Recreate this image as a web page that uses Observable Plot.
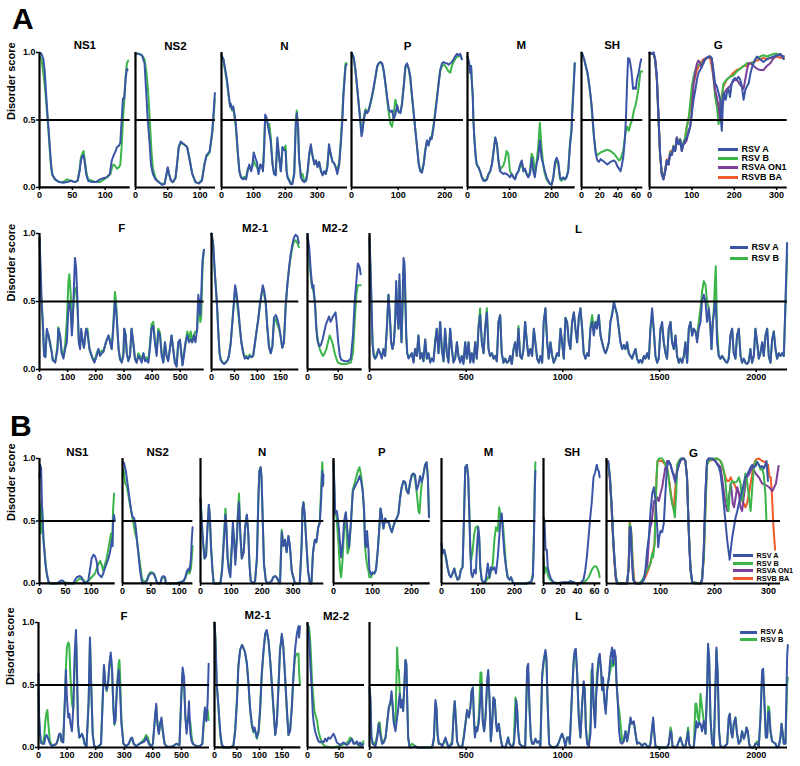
<!DOCTYPE html>
<html><head><meta charset="utf-8">
<script src="https://cdn.jsdelivr.net/npm/d3@7"></script>
<script src="https://cdn.jsdelivr.net/npm/@observablehq/plot@0.6"></script>
<style>
body{margin:0;background:#fff;overflow:hidden;}
#chart{position:relative;width:800px;height:766px;font-family:"Liberation Sans",Arial,Helvetica,sans-serif;color:#000;}
.big{position:absolute;font-weight:bold;font-size:30px;line-height:1;}
.lg{position:absolute;font-weight:bold;white-space:nowrap;line-height:1;}
.lg span.sw{position:absolute;height:3px;}
</style></head><body><div id="chart"></div>
<script>
// ---------- colours / series names ----------
const SERIES = ["RSV A", "RSV B", "RSVA ON1", "RSVB BA"];
const COLORS = {"RSV A": "#3a55a6", "RSV B": "#3bb54a", "RSVA ON1": "#7d3f98", "RSVB BA": "#f15a29"};
const Y_TICKS = [0, 0.5, 1];

// ---------- panel A, row 1 ----------
const A_NS1_A = [[0,1.0],[3,0.99],[6,0.95],[8,0.86],[10,0.7],[12,0.55],[14,0.42],[16,0.28],[18,0.15],[20,0.09],[24,0.06],[30,0.04],[36,0.035],[42,0.04],[48,0.05],[54,0.04],[58,0.05],[61,0.12],[63,0.2],[65,0.23],[67,0.24],[69,0.18],[71,0.1],[74,0.05],[80,0.04],[86,0.04],[92,0.06],[98,0.07],[102,0.075],[107,0.1],[110,0.2],[113,0.24],[116,0.27],[118,0.3],[121,0.31],[123,0.33],[125,0.5],[127,0.66],[129,0.66],[131,0.8],[133,0.88],[134,0.87]];
const A_NS1_B = [[0,0.97],[3,0.95],[5,0.88],[7,0.8],[9,0.7],[11,0.58],[13,0.46],[15,0.32],[17,0.18],[19,0.1],[23,0.06],[30,0.04],[36,0.04],[42,0.06],[48,0.05],[54,0.04],[58,0.05],[61,0.13],[63,0.22],[65,0.25],[67,0.27],[69,0.2],[71,0.12],[74,0.06],[80,0.05],[86,0.04],[92,0.04],[98,0.06],[104,0.08],[108,0.1],[111,0.16],[113,0.17],[115,0.16],[118,0.14],[121,0.15],[123,0.17],[125,0.3],[127,0.5],[129,0.65],[131,0.82],[133,0.92],[135,0.94]];
const A_NS2_A = [[0,0.99],[5,0.99],[10,0.98],[14,0.92],[17,0.67],[19,0.5],[22,0.32],[24,0.17],[27,0.1],[31,0.06],[36,0.04],[41,0.02],[45,0.025],[48,0.1],[50,0.15],[52,0.1],[55,0.05],[58,0.04],[62,0.07],[65,0.2],[67,0.3],[70,0.34],[75,0.32],[80,0.3],[84,0.2],[88,0.1],[93,0.04],[98,0.03],[103,0.05],[107,0.17],[110,0.24],[112,0.25],[115,0.27],[119,0.42],[121,0.55],[123,0.7]];
const A_NS2_B = [[0,0.99],[5,0.99],[10,0.98],[14,0.95],[17,0.85],[19,0.75],[21,0.6],[23,0.42],[25,0.25],[27,0.14],[31,0.07],[36,0.04],[41,0.025],[45,0.03],[48,0.09],[50,0.14],[52,0.1],[55,0.05],[58,0.04],[62,0.07],[65,0.2],[67,0.3],[70,0.33],[75,0.32],[80,0.3],[84,0.21],[88,0.1],[93,0.04],[98,0.03],[103,0.06],[107,0.18],[110,0.23],[112,0.24],[115,0.26],[119,0.4],[121,0.52],[123,0.66]];
const A_N_A = [[0,0.98],[6,0.95],[10,0.9],[17,0.8],[22,0.7],[27,0.6],[29,0.62],[33,0.58],[37,0.6],[40,0.55],[45,0.47],[50,0.3],[56,0.12],[61,0.075],[67,0.06],[72,0.07],[77,0.06],[82,0.12],[87,0.17],[93,0.12],[98,0.19],[101,0.26],[106,0.22],[111,0.19],[116,0.1],[122,0.17],[127,0.16],[130,0.12],[134,0.3],[137,0.54],[141,0.52],[146,0.45],[150,0.4],[154,0.35],[160,0.17],[165,0.1],[170,0.09],[175,0.37],[181,0.22],[186,0.12],[191,0.3],[196,0.28],[201,0.27],[204,0.12],[207,0.075],[212,0.05],[217,0.025],[222,0.025],[228,0.1],[233,0.47],[236,0.55],[240,0.45],[243,0.22],[249,0.075],[254,0.05],[259,0.04],[265,0.05],[270,0.12],[275,0.25],[280,0.32],[285,0.24],[291,0.17],[296,0.2],[301,0.15],[306,0.19],[312,0.12],[317,0.09],[322,0.12],[327,0.1],[332,0.15],[337,0.32],[343,0.24],[348,0.19],[353,0.18],[358,0.15],[363,0.1],[369,0.17],[374,0.32],[379,0.5],[382,0.67],[385,0.77],[389,0.9],[392,0.91]];
const A_N_B = [[0,0.97],[6,0.95],[10,0.88],[17,0.78],[22,0.68],[27,0.6],[29,0.6],[33,0.57],[37,0.58],[40,0.54],[45,0.45],[50,0.28],[56,0.12],[61,0.08],[67,0.07],[72,0.08],[77,0.07],[82,0.14],[87,0.15],[93,0.13],[98,0.16],[101,0.2],[106,0.17],[111,0.15],[116,0.12],[122,0.17],[127,0.15],[130,0.13],[134,0.35],[137,0.52],[141,0.5],[146,0.47],[150,0.47],[154,0.38],[160,0.18],[165,0.1],[170,0.1],[175,0.33],[181,0.22],[186,0.12],[191,0.29],[196,0.28],[201,0.31],[204,0.13],[207,0.08],[212,0.06],[217,0.03],[222,0.03],[228,0.11],[233,0.5],[236,0.57],[240,0.45],[243,0.22],[249,0.08],[254,0.1],[259,0.05],[265,0.05],[270,0.12],[275,0.24],[280,0.3],[285,0.24],[291,0.18],[296,0.2],[301,0.16],[306,0.19],[312,0.12],[317,0.1],[322,0.12],[327,0.1],[332,0.17],[337,0.3],[343,0.24],[348,0.19],[353,0.18],[358,0.15],[363,0.14],[369,0.18],[374,0.35],[379,0.55],[382,0.7],[385,0.8],[389,0.92],[392,0.92]];
const A_P_A = [[0,1.0],[3,0.98],[5,0.96],[8.6,0.87],[12,0.75],[16,0.6],[19,0.48],[21.4,0.38],[22.8,0.4],[26.4,0.5],[30,0.57],[33.6,0.55],[37,0.57],[40.7,0.63],[44,0.68],[47.8,0.75],[51.4,0.82],[55,0.9],[58.5,0.92],[62,0.93],[65.7,0.92],[69,0.87],[72.8,0.77],[76.4,0.67],[80,0.58],[83.5,0.56],[87,0.57],[90.6,0.51],[94,0.54],[97.7,0.61],[101,0.56],[104.8,0.55],[108,0.61],[112,0.75],[115.6,0.9],[119,0.92],[122.7,0.88],[126,0.82],[130,0.67],[133.4,0.55],[137,0.42],[140.5,0.3],[144,0.17],[147.6,0.12],[151,0.11],[154.7,0.17],[158,0.27],[161.8,0.35],[165,0.31],[168.9,0.37],[172,0.36],[176,0.45],[179.6,0.55],[183,0.65],[186.8,0.77],[190,0.87],[194,0.92],[197.5,0.93],[201,0.92],[204.6,0.92],[208,0.91],[211.7,0.92],[215,0.93],[218.8,0.95],[222,0.97],[225.9,0.99],[229,0.98],[233,0.99],[236.5,0.95]];
const A_P_B = [[0,1.0],[3,0.97],[5,0.95],[8.6,0.86],[12,0.74],[16,0.6],[19,0.5],[21.4,0.42],[22.8,0.4],[26.4,0.52],[30,0.58],[33.6,0.56],[37,0.58],[40.7,0.62],[44,0.67],[47.8,0.74],[51.4,0.82],[55,0.89],[58.5,0.92],[62,0.93],[65.7,0.91],[69,0.86],[72.8,0.76],[76.4,0.65],[80,0.55],[83.5,0.47],[87,0.45],[90.6,0.55],[94,0.65],[97.7,0.6],[101,0.56],[104.8,0.56],[108,0.62],[112,0.76],[115.6,0.89],[119,0.91],[122.7,0.88],[126,0.8],[130,0.66],[133.4,0.54],[137,0.42],[140.5,0.3],[144,0.18],[147.6,0.12],[151,0.12],[154.7,0.18],[158,0.28],[161.8,0.34],[165,0.32],[168.9,0.36],[172,0.38],[176,0.47],[179.6,0.57],[183,0.67],[186.8,0.78],[190,0.86],[194,0.9],[197.5,0.91],[201,0.9],[204.6,0.88],[208,0.86],[211.7,0.85],[215,0.9],[218.8,0.93],[222,0.95],[225.9,0.97],[229,0.97],[233,0.98],[236.5,0.95]];
const A_M_A = [[0,0.97],[4,0.92],[6.3,0.85],[8.7,0.9],[10,0.8],[12.6,0.67],[14,0.5],[16.6,0.35],[19.7,0.22],[22,0.17],[26,0.15],[30,0.12],[34,0.075],[38,0.05],[42,0.05],[46,0.06],[50,0.1],[54,0.12],[58,0.17],[62,0.27],[66,0.37],[70,0.32],[73.5,0.2],[77.4,0.12],[81.4,0.11],[85,0.1],[89,0.105],[93,0.1],[97,0.09],[101,0.075],[105,0.1],[109,0.075],[113,0.06],[117,0.1],[121,0.12],[125,0.17],[129,0.2],[133,0.12],[136.6,0.14],[140.6,0.1],[144.5,0.075],[148.6,0.1],[152.5,0.22],[156.5,0.12],[160,0.075],[164,0.17],[168,0.22],[172,0.35],[176,0.22],[180,0.17],[184,0.12],[188,0.075],[192,0.05],[196,0.025],[200,0.02],[204,0.075],[208,0.19],[212,0.22],[215.8,0.19],[220,0.075],[223.6,0.06],[227.6,0.075],[231.5,0.06],[235.5,0.075],[239.5,0.12],[243.4,0.3],[247.4,0.42],[249,0.55],[252,0.72],[255,0.92]];
const A_M_B = [[0,0.97],[4,0.92],[6.3,0.85],[8.7,0.88],[10,0.8],[12.6,0.67],[14,0.5],[16.6,0.35],[19.7,0.22],[22,0.17],[26,0.15],[30,0.12],[34,0.08],[38,0.06],[42,0.05],[46,0.06],[50,0.1],[54,0.12],[58,0.17],[62,0.27],[66,0.37],[70,0.32],[73.5,0.2],[77.4,0.13],[81.4,0.15],[85,0.16],[89,0.2],[93,0.27],[97,0.25],[101,0.12],[105,0.1],[109,0.08],[113,0.07],[117,0.1],[121,0.12],[125,0.15],[129,0.18],[133,0.12],[136.6,0.13],[140.6,0.1],[144.5,0.08],[148.6,0.12],[152.5,0.25],[156.5,0.22],[160,0.1],[164,0.18],[168,0.3],[172,0.48],[176,0.3],[180,0.17],[184,0.1],[188,0.06],[192,0.04],[196,0.03],[200,0.02],[204,0.07],[208,0.17],[212,0.2],[215.8,0.17],[220,0.06],[223.6,0.05],[227.6,0.07],[231.5,0.06],[235.5,0.08],[239.5,0.13],[243.4,0.32],[247.4,0.45],[249,0.58],[252,0.75],[255,0.92]];
const A_SH_A = [[0,1.0],[1,0.99],[2.9,0.95],[4.7,0.9],[6.6,0.85],[8.4,0.77],[10.2,0.67],[11.3,0.6],[12.4,0.5],[13.8,0.37],[15.7,0.25],[17.5,0.2],[19.3,0.19],[21,0.21],[23,0.2],[24.8,0.19],[28.4,0.17],[32,0.19],[35.7,0.2],[37.5,0.19],[39.3,0.16],[41.2,0.14],[43,0.12],[44,0.15],[45.9,0.22],[47.7,0.35],[49,0.52],[50.3,0.8],[51.4,0.96],[53,0.95],[54.9,0.87],[56.8,0.73],[58.3,0.74],[59.8,0.73],[61,0.8],[62.9,0.85],[64.7,0.92],[65.8,0.95]];
const A_SH_B = [[0,1.0],[2.9,0.95],[4.7,0.9],[6.6,0.84],[8.4,0.76],[10.2,0.66],[12.1,0.5],[13.8,0.37],[15.7,0.26],[17.5,0.24],[21,0.26],[24.8,0.27],[28.4,0.28],[32,0.27],[35.7,0.25],[39.3,0.22],[41.2,0.2],[43,0.21],[45.9,0.27],[48.3,0.4],[50.3,0.45],[52.2,0.42],[54,0.47],[55.8,0.5],[57.7,0.57],[59.5,0.61],[61.3,0.67],[63.1,0.75],[64.9,0.86],[67,0.86]];
const A_G_A = [[0,1.0],[5.5,0.99],[9.4,1.0],[13.4,0.95],[17.3,0.82],[21,0.55],[25,0.25],[29,0.1],[33,0.06],[37,0.12],[40.9,0.2],[44.8,0.17],[48.8,0.25],[52.7,0.24],[56.6,0.3],[60.6,0.27],[64.5,0.37],[68.4,0.32],[72.4,0.35],[76.3,0.27],[80,0.32],[84,0.35],[88,0.37],[92,0.4],[96,0.45],[100,0.55],[104,0.65],[108,0.72],[112,0.8],[115.7,0.85],[119.6,0.87],[123.5,0.9],[127.5,0.92],[131.4,0.95],[135,0.96],[139,0.97],[143,0.97],[147,0.96],[151,0.87],[155,0.77],[159,0.75],[163,0.7],[166.9,0.65],[168.5,0.5],[170.8,0.42],[173,0.6],[176,0.7],[180,0.65],[182.5,0.7],[186.5,0.73],[190,0.67],[194,0.77],[198,0.8],[202,0.81],[206,0.8],[210,0.82],[214,0.8],[218,0.75],[222,0.65],[226,0.72],[230,0.75],[234,0.77],[238,0.84],[242,0.89],[245.7,0.92],[249.6,0.95],[253.5,0.97],[261,0.95],[269,0.93],[277,0.95],[285,0.96],[293,0.97],[301,0.98],[309,0.99],[317,0.95]];
const A_G_B = [[0,1.0],[5.5,0.99],[9.4,0.99],[13.4,0.94],[17.3,0.8],[21,0.52],[25,0.24],[29,0.1],[33,0.07],[37,0.13],[40.9,0.2],[44.8,0.18],[48.8,0.26],[52.7,0.25],[56.6,0.31],[60.6,0.28],[64.5,0.36],[68.4,0.33],[72.4,0.36],[76.3,0.29],[80,0.33],[84,0.37],[88,0.45],[92,0.5],[96,0.62],[100,0.75],[104,0.82],[108,0.87],[112,0.9],[119.6,0.92],[127.5,0.93],[135,0.96],[143,0.97],[147,0.95],[151,0.82],[155,0.67],[159,0.6],[163,0.47],[166.9,0.55],[170.8,0.67],[174.6,0.77],[182.5,0.8],[190,0.82],[198,0.83],[206,0.86],[214,0.88],[222,0.9],[230,0.92],[238,0.92],[245.7,0.93],[253.5,0.96],[261,0.97],[269,0.98],[277,0.97],[285,0.98],[293,0.99],[301,0.99],[309,0.98],[317,0.97]];
const A_G_ON1 = [[0,1.0],[5.5,0.99],[9.4,1.0],[13.4,0.95],[17.3,0.82],[21,0.55],[25,0.25],[29,0.1],[33,0.06],[37,0.12],[40.9,0.2],[44.8,0.17],[48.8,0.25],[52.7,0.24],[56.6,0.3],[60.6,0.27],[64.5,0.37],[68.4,0.32],[72.4,0.35],[76.3,0.27],[80,0.32],[84,0.33],[88,0.35],[92,0.42],[96,0.45],[100,0.55],[104,0.77],[108,0.85],[112,0.92],[115.7,0.94],[119.6,0.92],[123.5,0.89],[127.5,0.94],[135,0.96],[143,0.97],[147,0.95],[151,0.82],[155,0.72],[159,0.67],[163,0.6],[166.9,0.5],[170.8,0.6],[174.6,0.69],[182.5,0.73],[190,0.75],[198,0.79],[206,0.8],[214,0.76],[222,0.73],[226,0.8],[230,0.87],[234,0.92],[238,0.92],[245.7,0.9],[253.5,0.88],[261,0.87],[269,0.87],[277,0.9],[285,0.92],[293,0.96],[301,0.98],[309,0.98],[317,0.97]];
const A_G_BA = [[0,1.0],[5.5,0.99],[9.4,0.99],[13.4,0.94],[17.3,0.8],[21,0.52],[25,0.24],[29,0.1],[33,0.07],[37,0.13],[40.9,0.21],[44.8,0.18],[48.8,0.27],[52.7,0.25],[56.6,0.31],[60.6,0.28],[64.5,0.37],[68.4,0.33],[72.4,0.36],[76.3,0.3],[80,0.33],[84,0.36],[88,0.45],[96,0.57],[104,0.77],[112,0.87],[119.6,0.92],[127.5,0.95],[135,0.96],[143,0.96],[151,0.82],[159,0.62],[163,0.55],[166.9,0.62],[174.6,0.75],[182.5,0.8],[190,0.82],[198,0.85],[206,0.87],[214,0.88],[222,0.9],[230,0.9],[238,0.92],[245.7,0.93],[253.5,0.94],[261,0.95],[269,0.96],[277,0.95],[285,0.96],[293,0.96],[301,0.97],[309,0.96],[317,0.96]];

// ---------- panel A, row 2 ----------
const A_F_A = [[0,0.97],[4.7,0.7],[8.3,0.45],[11.8,0.35],[16.5,0.1],[21,0.09],[26,0.3],[32,0.25],[38,0.18],[44,0.12],[47,0.07],[56,0.05],[64,0.15],[67,0.3],[73,0.25],[79,0.12],[85,0.08],[91,0.15],[97,0.2],[103,0.47],[106,0.5],[111,0.42],[115,0.25],[118,0.35],[123,0.65],[126,0.82],[130,0.75],[135,0.5],[139.5,0.2],[144,0.15],[148,0.3],[154,0.2],[158,0.16],[165.5,0.3],[170,0.28],[177,0.15],[182,0.12],[189,0.08],[195,0.05],[203,0.1],[209,0.15],[215,0.1],[221,0.12],[227,0.13],[236,0.2],[245,0.25],[250.6,0.2],[256.5,0.15],[262,0.3],[268,0.5],[272,0.45],[276.6,0.3],[281,0.15],[286,0.08],[292,0.05],[298,0.1],[301,0.3],[306,0.25],[310,0.12],[315.6,0.06],[321.5,0.1],[327,0.3],[333,0.2],[339,0.08],[345,0.05],[351,0.1],[357,0.08],[363,0.05],[369,0.12],[375,0.06],[380.6,0.07],[386.5,0.05],[392,0.15],[398,0.3],[404,0.32],[410,0.2],[416,0.1],[422,0.28],[428,0.25],[434,0.1],[440,0.05],[445.6,0.2],[451.5,0.1],[457,0.06],[463,0.15],[469,0.25],[475,0.15],[481,0.05],[487,0.02],[493,0.2],[499,0.22],[504.7,0.1],[508,0.03],[513,0.1],[519,0.2],[525,0.25],[531,0.2],[537,0.22],[542.6,0.2],[548.5,0.25],[554,0.2],[560,0.3],[564,0.55],[567,0.5],[571,0.4],[574.5,0.55],[579,0.8],[584,0.88]];
const A_F_B = [[0,0.97],[4.7,0.55],[8.3,0.5],[11.8,0.3],[16.5,0.1],[21,0.1],[26,0.28],[32,0.25],[38,0.2],[44,0.12],[47,0.07],[56,0.06],[64,0.18],[67,0.31],[73,0.25],[79,0.12],[85,0.1],[91,0.18],[97,0.35],[103,0.65],[106,0.7],[111,0.55],[115,0.3],[118,0.4],[123,0.55],[126,0.6],[130,0.6],[135,0.45],[139.5,0.22],[144,0.17],[148,0.28],[154,0.2],[158,0.16],[165.5,0.3],[170,0.3],[177,0.17],[182,0.12],[189,0.08],[195,0.06],[203,0.12],[209,0.15],[215,0.12],[221,0.14],[227,0.13],[236,0.2],[245,0.25],[250.6,0.22],[256.5,0.15],[262,0.33],[268,0.57],[272,0.5],[276.6,0.3],[281,0.15],[286,0.07],[292,0.06],[298,0.12],[301,0.3],[306,0.26],[310,0.12],[315.6,0.07],[321.5,0.1],[327,0.3],[333,0.2],[339,0.08],[345,0.05],[351,0.12],[357,0.1],[363,0.07],[369,0.12],[375,0.07],[380.6,0.09],[386.5,0.06],[392,0.18],[398,0.33],[404,0.35],[410,0.22],[416,0.12],[422,0.3],[428,0.27],[434,0.12],[440,0.06],[445.6,0.2],[451.5,0.1],[457,0.07],[463,0.15],[469,0.25],[475,0.15],[481,0.05],[487,0.03],[493,0.2],[499,0.2],[504.7,0.1],[508,0.04],[513,0.12],[519,0.2],[525,0.28],[531,0.22],[537,0.28],[542.6,0.2],[548.5,0.26],[554,0.28],[560,0.28],[564,0.5],[567,0.45],[571,0.35],[574.5,0.38],[579,0.75],[584,0.88]];
const A_M21_A = [[0,1.0],[3.6,0.93],[7.2,0.72],[9.4,0.6],[11.6,0.5],[14.5,0.3],[17.4,0.12],[20,0.07],[24,0.05],[27.5,0.04],[31,0.05],[35,0.07],[38,0.1],[42,0.2],[45.7,0.36],[49,0.5],[51.4,0.62],[53.6,0.58],[56.5,0.5],[58.7,0.44],[61.6,0.32],[65,0.2],[69,0.12],[72.5,0.08],[76,0.09],[79.7,0.08],[83,0.1],[87,0.09],[90.6,0.1],[94,0.18],[98,0.28],[101.4,0.36],[105,0.47],[108.7,0.55],[111.6,0.62],[114.5,0.58],[118,0.5],[121.7,0.3],[125,0.17],[129,0.12],[132.5,0.17],[136,0.38],[140,0.4],[143.4,0.37],[147,0.32],[150.6,0.24],[154,0.16],[157.7,0.2],[161.5,0.47],[165,0.62],[168.8,0.75],[172,0.84],[176,0.92],[179.6,0.97],[183,0.99],[186.9,0.98],[190,0.93]];
const A_M21_B = [[0,1.0],[3.6,0.92],[7.2,0.7],[8.5,0.65],[9.4,0.62],[11.6,0.5],[14.5,0.3],[17.4,0.13],[20,0.08],[24,0.05],[27.5,0.05],[31,0.05],[35,0.07],[38,0.1],[42,0.2],[45.7,0.36],[49,0.5],[51.4,0.6],[53.6,0.56],[56.5,0.46],[58.7,0.4],[61.6,0.3],[65,0.2],[69,0.13],[72.5,0.09],[76,0.1],[79.7,0.08],[83,0.11],[87,0.09],[90.6,0.1],[94,0.18],[98,0.28],[101.4,0.36],[105,0.46],[108.7,0.55],[111.6,0.6],[114.5,0.56],[118,0.48],[121.7,0.3],[125,0.17],[129,0.12],[132.5,0.17],[136,0.35],[140,0.37],[143.4,0.33],[147,0.3],[150.6,0.24],[154,0.16],[157.7,0.2],[161.5,0.47],[165,0.62],[168.8,0.74],[172,0.82],[176,0.9],[179.6,0.94],[183,0.95],[186.9,0.93],[190,0.9]];
const A_M22_A = [[0,0.99],[2.7,0.9],[5.4,0.72],[8,0.6],[9.7,0.62],[10.8,0.55],[12.4,0.47],[14,0.32],[16,0.22],[19,0.17],[21.8,0.18],[24.5,0.22],[27,0.27],[29.9,0.33],[32.5,0.36],[35,0.39],[37.6,0.35],[40.3,0.38],[43,0.4],[45.7,0.42],[47.3,0.35],[50,0.2],[52.7,0.1],[55,0.07],[60.7,0.06],[66,0.06],[70.4,0.08],[74,0.25],[76.8,0.5],[79.5,0.65],[82,0.78],[85,0.75],[86.5,0.7]];
const A_M22_B = [[0,0.97],[4,0.75],[6.7,0.62],[9.4,0.58],[12,0.5],[14.6,0.3],[17.3,0.2],[20,0.15],[22.7,0.12],[25.4,0.1],[28,0.12],[30.7,0.15],[33.4,0.2],[36,0.25],[38.8,0.22],[41.5,0.18],[44.2,0.12],[46.9,0.08],[49.6,0.05],[55,0.04],[63,0.04],[70.4,0.05],[74,0.12],[76.8,0.35],[79.5,0.55],[82,0.62],[86.5,0.62]];
const A_L_A = [[0,0.98],[8.6,0.6],[15.5,0.2],[22,0.1],[29,0.08],[38,0.1],[46.5,0.15],[55,0.12],[64,0.08],[72,0.15],[81,0.1],[90,0.3],[98,0.55],[105,0.4],[112,0.2],[119,0.15],[126,0.2],[133,0.35],[138,0.65],[143,0.45],[150,0.3],[155,0.7],[160,0.4],[165.5,0.2],[171,0.5],[176,0.82],[181,0.78],[184.5,0.6],[190,0.25],[195,0.12],[202,0.08],[210,0.1],[219,0.12],[227.6,0.05],[236,0.15],[245,0.1],[253,0.25],[262,0.08],[271,0.12],[279,0.06],[288,0.22],[296.5,0.08],[305,0.12],[314,0.05],[322,0.08],[331,0.06],[340,0.2],[348,0.3],[357,0.12],[365.5,0.35],[374,0.15],[383,0.06],[391,0.3],[400,0.12],[408.6,0.05],[417,0.3],[426,0.15],[434,0.05],[443,0.08],[452,0.2],[460,0.1],[469,0.05],[477.5,0.1],[486,0.04],[495,0.2],[503,0.08],[512,0.2],[521,0.05],[529,0.12],[538,0.05],[546.5,0.2],[555,0.08],[564,0.3],[572,0.4],[581,0.2],[590,0.12],[598,0.3],[607,0.42],[615.6,0.15],[624,0.1],[633,0.12],[641.6,0.08],[650,0.1],[658.6,0.06],[667,0.35],[676,0.4],[684,0.12],[693,0.05],[702,0.08],[710,0.05],[719,0.06],[727.6,0.1],[736,0.04],[745,0.15],[753,0.2],[762,0.1],[770.6,0.3],[779,0.1],[788,0.08],[796.5,0.15],[805,0.35],[814,0.2],[822,0.1],[832,0.15],[841,0.1],[850,0.3],[858,0.2],[867,0.08],[876,0.05],[884,0.1],[893,0.05],[901,0.35],[910,0.45],[919,0.2],[927,0.08],[936,0.2],[945,0.1],[953,0.05],[962,0.08],[970,0.12],[979,0.1],[988,0.3],[996,0.2],[1005,0.08],[1013.5,0.38],[1022,0.35],[1031,0.2],[1039,0.15],[1048,0.35],[1057,0.42],[1065,0.3],[1074,0.2],[1082.5,0.38],[1091,0.45],[1100,0.3],[1108,0.12],[1117,0.08],[1126,0.12],[1134,0.1],[1143,0.3],[1151.5,0.35],[1160,0.25],[1169,0.35],[1177,0.3],[1186,0.4],[1195,0.25],[1203,0.2],[1212,0.15],[1220.5,0.12],[1229,0.15],[1238,0.2],[1246,0.35],[1255,0.4],[1264,0.5],[1272,0.45],[1281,0.4],[1289.5,0.3],[1298,0.2],[1307,0.15],[1315,0.18],[1324,0.15],[1332.5,0.2],[1341,0.12],[1350,0.1],[1358,0.08],[1367,0.12],[1376,0.15],[1384,0.08],[1393,0.05],[1401,0.07],[1410,0.05],[1419,0.1],[1427,0.08],[1436,0.12],[1445,0.08],[1453,0.3],[1462,0.45],[1470,0.3],[1479,0.1],[1488,0.05],[1496,0.08],[1505,0.3],[1513.5,0.35],[1522,0.2],[1531,0.12],[1539,0.08],[1548,0.3],[1557,0.35],[1565,0.2],[1574,0.15],[1582.5,0.25],[1591,0.1],[1600,0.05],[1608,0.08],[1617,0.05],[1626,0.1],[1634,0.2],[1643,0.05],[1651.5,0.3],[1660,0.35],[1669,0.25],[1677,0.3],[1686,0.28],[1694.5,0.2],[1703,0.3],[1712,0.35],[1720,0.5],[1729,0.55],[1738,0.5],[1746,0.35],[1755,0.45],[1763.5,0.3],[1769,0.15],[1775.5,0.35],[1781,0.4],[1786,0.5],[1791,0.5],[1798,0.2],[1806.5,0.1],[1815,0.08],[1824,0.1],[1832.5,0.08],[1841,0.06],[1850,0.05],[1858,0.08],[1867,0.25],[1875.5,0.3],[1884,0.12],[1893,0.08],[1901,0.25],[1910,0.3],[1919,0.1],[1927,0.05],[1936,0.08],[1944.5,0.05],[1953,0.04],[1962,0.06],[1970,0.15],[1979,0.05],[1988,0.1],[1996,0.3],[2005,0.2],[2013.5,0.08],[2022,0.12],[2031,0.2],[2039,0.1],[2048,0.25],[2057,0.3],[2065,0.1],[2074,0.05],[2082.5,0.22],[2091,0.28],[2100,0.15],[2108,0.08],[2117,0.12],[2125.5,0.1],[2134,0.12],[2143,0.1],[2151.5,0.5],[2160,0.93]];
const A_L_B = [[0,0.96],[8.6,0.55],[15.5,0.2],[22,0.1],[29,0.08],[38,0.12],[46.5,0.15],[55,0.12],[64,0.09],[72,0.15],[81,0.1],[90,0.32],[98,0.55],[105,0.4],[112,0.2],[119,0.15],[126,0.2],[133,0.38],[138,0.6],[143,0.45],[150,0.3],[155,0.65],[160,0.4],[165.5,0.2],[171,0.45],[176,0.75],[181,0.72],[184.5,0.55],[190,0.25],[195,0.12],[202,0.09],[210,0.1],[219,0.12],[227.6,0.06],[236,0.15],[245,0.1],[253,0.25],[262,0.08],[271,0.12],[279,0.06],[288,0.22],[296.5,0.08],[305,0.12],[314,0.06],[322,0.08],[331,0.07],[340,0.22],[348,0.3],[357,0.12],[365.5,0.35],[374,0.15],[383,0.06],[391,0.3],[400,0.12],[408.6,0.06],[417,0.3],[426,0.15],[434,0.06],[443,0.08],[452,0.2],[460,0.1],[469,0.06],[477.5,0.1],[486,0.05],[495,0.2],[503,0.08],[512,0.2],[521,0.06],[529,0.12],[538,0.06],[546.5,0.2],[555,0.08],[564,0.32],[572,0.45],[581,0.2],[590,0.12],[598,0.3],[607,0.45],[615.6,0.15],[624,0.1],[633,0.12],[641.6,0.08],[650,0.1],[658.6,0.06],[667,0.35],[676,0.4],[684,0.12],[693,0.05],[702,0.08],[710,0.05],[719,0.06],[727.6,0.1],[736,0.04],[745,0.15],[753,0.2],[762,0.1],[770.6,0.32],[779,0.1],[788,0.08],[796.5,0.15],[805,0.35],[814,0.2],[822,0.1],[832,0.15],[841,0.1],[850,0.3],[858,0.2],[867,0.08],[876,0.05],[884,0.1],[893,0.05],[901,0.35],[910,0.45],[919,0.2],[927,0.08],[936,0.2],[945,0.1],[953,0.05],[962,0.08],[970,0.12],[979,0.1],[988,0.3],[996,0.2],[1005,0.08],[1013.5,0.38],[1022,0.35],[1031,0.2],[1039,0.15],[1048,0.35],[1057,0.42],[1065,0.3],[1074,0.2],[1082.5,0.38],[1091,0.45],[1100,0.3],[1108,0.12],[1117,0.08],[1126,0.12],[1134,0.1],[1143,0.32],[1151.5,0.4],[1160,0.3],[1169,0.35],[1177,0.35],[1186,0.4],[1195,0.25],[1203,0.2],[1212,0.15],[1220.5,0.12],[1229,0.15],[1238,0.2],[1246,0.35],[1255,0.42],[1264,0.48],[1272,0.45],[1281,0.4],[1289.5,0.3],[1298,0.2],[1307,0.15],[1315,0.18],[1324,0.15],[1332.5,0.2],[1341,0.12],[1350,0.1],[1358,0.08],[1367,0.12],[1376,0.15],[1384,0.08],[1393,0.05],[1401,0.07],[1410,0.05],[1419,0.1],[1427,0.08],[1436,0.12],[1445,0.08],[1453,0.3],[1462,0.4],[1470,0.3],[1479,0.1],[1488,0.05],[1496,0.08],[1505,0.3],[1513.5,0.32],[1522,0.2],[1531,0.12],[1539,0.08],[1548,0.3],[1557,0.35],[1565,0.2],[1574,0.15],[1582.5,0.25],[1591,0.1],[1600,0.05],[1608,0.08],[1617,0.05],[1626,0.1],[1634,0.2],[1643,0.05],[1651.5,0.3],[1660,0.35],[1669,0.25],[1677,0.3],[1686,0.28],[1694.5,0.25],[1703,0.35],[1712,0.45],[1720,0.57],[1729,0.65],[1738,0.62],[1746,0.5],[1755,0.45],[1763.5,0.3],[1769,0.15],[1775.5,0.35],[1781,0.45],[1786,0.62],[1791,0.76],[1798,0.3],[1806.5,0.1],[1815,0.08],[1824,0.1],[1832.5,0.08],[1841,0.06],[1850,0.05],[1858,0.08],[1867,0.25],[1875.5,0.3],[1884,0.12],[1893,0.08],[1901,0.25],[1910,0.3],[1919,0.1],[1927,0.05],[1936,0.08],[1944.5,0.05],[1953,0.04],[1962,0.06],[1970,0.15],[1979,0.05],[1988,0.1],[1996,0.3],[2005,0.2],[2013.5,0.08],[2022,0.12],[2031,0.2],[2039,0.1],[2048,0.25],[2057,0.3],[2065,0.1],[2074,0.05],[2082.5,0.22],[2091,0.28],[2100,0.15],[2108,0.08],[2117,0.12],[2125.5,0.1],[2134,0.12],[2143,0.1],[2151.5,0.45],[2160,0.85]];

// ---------- panel B, row 1 ----------
const B_NS1_A = [[0,0.85],[1.3,0.95],[3.2,0.92],[5,0.6],[6.4,0.5],[7.7,0.35],[9.6,0.25],[11.5,0.15],[14,0.08],[17,0.02],[20.5,0],[33,0],[40,0.02],[43,0.025],[46,0.02],[49,0],[65,0],[68.6,0.03],[72,0.05],[78,0.06],[81,0.05],[84.6,0.02],[88,0],[94,0.02],[97,0.1],[100.6,0.2],[104,0.23],[107,0.22],[110,0.18],[113,0.08],[117,0.06],[120,0.05],[123,0.08],[126,0.12],[129.5,0.16],[133,0.2],[136,0.25],[138,0.3],[140,0.35],[141,0.3],[142,0.5],[143.6,0.55],[145.5,0.5]];
const B_NS1_B = [[0,0.5],[1.3,0.62],[2.6,0.4],[3.8,0.66],[5,0.62],[6.4,0.45],[7.7,0.35],[11,0.2],[14,0.08],[17,0.02],[20.5,0],[40,0],[46,0.01],[65,0],[72,0.02],[78,0.04],[84.6,0.03],[88,0.01],[94,0.02],[100.6,0.05],[107,0.08],[113,0.15],[117,0.18],[120,0.15],[123,0.1],[126,0.15],[129.5,0.2],[133,0.28],[136,0.35],[138,0.4],[140,0.3],[142,0.6],[144,0.72]];
const B_NS2_A = [[0,0.97],[1.8,0.97],[2.9,0.96],[5.9,0.9],[8.8,0.8],[11.8,0.7],[14.7,0.6],[17.6,0.53],[19.4,0.53],[20.6,0.52],[22.4,0.48],[24,0.42],[26.5,0.3],[28.8,0.2],[31,0.1],[34,0.02],[37,0],[43,0.02],[46,0.06],[49,0.08],[52,0.08],[55,0.08],[57.6,0.05],[60.6,0.01],[63.5,0],[66.5,0],[69.4,0.05],[72,0.06],[75,0.05],[76.5,0],[81,0],[90,0],[96,0],[102,0.01],[107.6,0.02],[110.6,0.05],[113.5,0.1],[116.5,0.12],[118,0.1],[120.6,0.2],[122,0.35],[123.5,0.45]];
const B_NS2_B = [[0,0.85],[1.8,0.92],[4.7,0.8],[7.6,0.78],[10.6,0.7],[13.5,0.62],[16.5,0.55],[19.4,0.48],[22.4,0.4],[25.3,0.35],[28,0.25],[31,0.15],[34,0.05],[37,0.01],[43,0.03],[46,0.07],[49,0.09],[52,0.09],[55,0.08],[57.6,0.05],[60.6,0.01],[63.5,0],[66.5,0],[69.4,0.04],[72,0.05],[75,0.04],[76.5,0],[90,0],[102,0.01],[107.6,0.02],[110.6,0.04],[113.5,0.08],[116.5,0.1],[118,0.08],[120.6,0.12],[122,0.2],[123.5,0.3]];
const B_N_A = [[0,0.68],[3,0.55],[7.5,0.35],[13,0.2],[18,0.22],[21.5,0.4],[27,0.63],[30,0.55],[34,0.3],[39,0.1],[43,0],[54,0],[64.5,0],[70,0.1],[75,0.3],[81,0.55],[84,0.45],[88,0.2],[92.5,0.1],[97,0.05],[102,0.3],[105,0.5],[110,0.3],[113,0.15],[118,0.35],[121.5,0.55],[125,0.65],[129,0.4],[134,0.2],[140,0.25],[145,0.45],[150.5,0.55],[155,0.4],[159,0.15],[163,0.02],[172,0],[177,0.02],[183,0.2],[188,0.7],[191,0.9],[195,0.93],[198,0.85],[202,0.5],[206,0.15],[212,0.02],[220,0],[231,0.02],[236,0.05],[242,0.06],[247,0.05],[253,0.02],[258,0],[263.6,0.41],[269,0.3],[274,0.35],[279.6,0.25],[285,0.38],[290,0.3],[296,0.1],[306.5,0],[317,0],[322,0],[328,0.3],[331,0.6],[334,0.65],[338,0.55],[344,0.3],[349,0.1],[355,0],[360,0],[365,0.25],[371,0.35],[376,0.33],[382,0.45],[387,0.48],[392,0.7],[395,0.9],[397,0.78],[399,0.87]];
const B_N_B = [[0,0.68],[3,0.55],[7.5,0.35],[13,0.2],[18,0.22],[21.5,0.4],[27,0.62],[30,0.55],[34,0.3],[39,0.1],[43,0],[54,0],[64.5,0],[70,0.12],[75,0.35],[81,0.6],[84,0.45],[88,0.2],[92.5,0.1],[97,0.15],[102,0.32],[105,0.45],[110,0.32],[113,0.2],[118,0.38],[121.5,0.58],[125,0.72],[129,0.4],[134,0.2],[140,0.25],[145,0.45],[150.5,0.55],[155,0.4],[159,0.15],[163,0.02],[172,0],[177,0.02],[183,0.2],[188,0.7],[191,0.9],[195,0.93],[198,0.85],[202,0.5],[206,0.15],[212,0.02],[220,0],[231,0.02],[236,0.05],[242,0.06],[247,0.05],[253,0.02],[258,0],[263.6,0.43],[269,0.3],[274,0.35],[279.6,0.25],[285,0.38],[290,0.3],[296,0.1],[306.5,0],[317,0],[322,0],[328,0.3],[331,0.6],[334,0.65],[338,0.55],[344,0.3],[349,0.1],[355,0],[360,0],[365,0.25],[371,0.35],[376,0.33],[382,0.45],[387,0.5],[392,0.8],[395,0.97],[397,0.85],[399,0.8]];
const B_P_A = [[0,0.98],[2.6,0.75],[4.3,0.56],[6.8,0.58],[8.5,0.58],[12.8,0.48],[19.7,0.21],[24,0.33],[27,0.5],[31.6,0.57],[36,0.42],[40,0.29],[45,0.5],[49.6,0.74],[55.6,0.78],[62.4,0.82],[66.7,0.86],[71,0.82],[75,0.74],[78.6,0.58],[81,0.32],[83.8,0.29],[86,0.42],[89.7,0.27],[92,0.11],[96.6,0.07],[100,0.09],[105,0.08],[109,0.11],[113.7,0.27],[117,0.42],[120.5,0.6],[124,0.54],[128,0.44],[132.5,0.52],[136.8,0.49],[141,0.5],[145,0.45],[149.6,0.41],[154,0.46],[158,0.5],[162,0.52],[166.7,0.56],[171,0.69],[175,0.77],[179.5,0.82],[184,0.81],[188,0.74],[192,0.72],[196.6,0.81],[201,0.87],[205,0.88],[209,0.87],[213.7,0.75],[218,0.79],[222,0.86],[226.5,0.81],[231,0.88],[235,0.95],[239,0.97],[242,0.85],[245,0.53]];
const B_P_B = [[0,0.98],[2.6,0.72],[4.3,0.55],[6.8,0.56],[8.5,0.5],[12.8,0.32],[17,0.1],[19.7,0.05],[23,0.18],[27,0.42],[31.6,0.56],[35,0.3],[36,0.24],[40,0.28],[45,0.5],[49.6,0.75],[55.6,0.82],[62.4,0.9],[66.7,0.93],[71,0.86],[75,0.74],[78.6,0.56],[81,0.29],[83.8,0.2],[86,0.15],[89.7,0.1],[92,0.05],[96.6,0.05],[100,0.08],[105,0.08],[109,0.11],[113.7,0.27],[117,0.42],[120.5,0.6],[124,0.54],[128,0.44],[132.5,0.52],[136.8,0.49],[141,0.5],[145,0.45],[149.6,0.41],[154,0.46],[158,0.5],[162,0.52],[166.7,0.56],[171,0.69],[175,0.77],[179.5,0.82],[184,0.81],[188,0.74],[192,0.72],[196.6,0.81],[201,0.87],[205,0.88],[209,0.84],[213.7,0.72],[218,0.58],[220.5,0.56],[224,0.72],[226.5,0.81],[231,0.88],[235,0.95],[239,0.97],[242,0.85],[245,0.53]];
const B_M_A = [[0,0.32],[2.7,0.24],[7.3,0.27],[12,0.21],[16.5,0.13],[21,0.07],[25.6,0.05],[30,0.08],[35,0.12],[39,0.07],[44,0.03],[48.5,0.04],[53,0.11],[57.7,0.13],[62,0.58],[65,0.93],[69.6,0.95],[73,0.85],[76,0.58],[78.8,0.27],[81.5,0.08],[85,0.05],[89.7,0.11],[94,0.08],[97,0.29],[100.7,0.45],[103.5,0.37],[106,0.13],[110,0.03],[114.5,0.01],[119,0.01],[122,0.05],[126.6,0.16],[131,0.05],[135.5,0.13],[140,0.11],[144.7,0.13],[149,0.08],[154,0.21],[158,0.37],[161,0.5],[165,0.56],[167.6,0.42],[172,0.24],[176.7,0.13],[181,0.05],[186,0.03],[190.5,0.05],[195,0.01],[199.6,0],[204,0],[213,0],[222.5,0],[231.7,0],[241,0.01],[245,0.01],[250,0.05],[252.7,0.32],[255.5,0.77],[257,0.9]];
const B_M_B = [[0,0.32],[2.7,0.24],[7.3,0.27],[12,0.21],[16.5,0.13],[21,0.07],[25.6,0.05],[30,0.08],[35,0.12],[39,0.07],[44,0.03],[48.5,0.04],[53,0.11],[57.7,0.13],[62,0.58],[65,0.93],[69.6,0.95],[73,0.85],[76,0.58],[78.8,0.27],[80.6,0.18],[85,0.26],[89.7,0.4],[94,0.45],[99,0.46],[103.5,0.32],[106,0.13],[110,0.03],[114.5,0.01],[119,0.01],[122,0.02],[126.6,0.05],[131,0.04],[135.5,0.1],[140,0.15],[144.7,0.35],[149,0.45],[154,0.42],[158,0.61],[161,0.55],[165,0.5],[167.6,0.5],[172,0.32],[176.7,0.13],[181,0.05],[186,0.03],[190.5,0.05],[195,0.01],[199.6,0],[213,0],[231.7,0],[241,0.01],[245,0.01],[250,0.08],[252.7,0.4],[255.5,0.85],[257,0.97]];
const B_SH_A = [[0,0.53],[1.2,0.5],[2.4,0.27],[3.9,0.27],[5,0.13],[6.7,0.08],[8.6,0.04],[11.8,0.01],[15.7,0],[23.5,0.01],[29.4,0.01],[31.4,0.02],[35.3,0.01],[39,0],[43,0],[47,0.03],[49,0.1],[51,0.21],[53,0.37],[55,0.53],[56.9,0.66],[58.8,0.85],[60.8,0.89],[62.7,0.95],[64,0.91],[65,0.9],[66,0.85]];
const B_SH_B = [[0,0.21],[1.2,0.08],[2.4,0.13],[3.9,0.11],[5.9,0.05],[7.8,0.03],[11.8,0.005],[23.5,0.005],[39,0],[47,0.005],[51,0.03],[53,0.05],[55,0.08],[56.9,0.11],[58.8,0.13],[60.8,0.14],[62.7,0.13],[65,0.09],[66,0.05]];
const B_G_A = [[0,0.98],[3,0.98],[6.2,0.85],[9.3,0.64],[12.3,0.37],[14.8,0.19],[17.3,0.05],[19.8,0],[38,0],[41,0.13],[43,0.45],[45,0.45],[47,0.21],[49.4,0.03],[53.7,0],[63,0],[69,0.03],[72,0.11],[75.3,0.27],[78.4,0.37],[81.5,0.58],[84.6,0.72],[87.7,0.77],[90.7,0.66],[93.8,0.45],[95.7,0.29],[97.5,0.37],[100,0.42],[103,0.41],[106,0.48],[109,0.72],[112,0.93],[115,0.98],[118.5,0.95],[121.6,0.9],[124.7,0.87],[127.8,0.82],[130.9,0.9],[134,0.95],[137,0.99],[140,1.0],[143,1.0],[146,0.98],[149,0.85],[151,0.58],[153,0.32],[155.6,0.11],[158.6,0.01],[161.7,0],[174,0],[177,0.03],[180,0.27],[183,0.72],[186,0.98],[189,1.0],[195.7,1.0],[198.8,0.99],[202,0.98],[205,0.95],[208,0.93],[211,0.88],[214,0.77],[217,0.64],[220,0.5],[223.5,0.34],[226.5,0.24],[228,0.19],[230,0.27],[232.7,0.37],[235.8,0.45],[239,0.53],[242,0.58],[245,0.64],[248,0.69],[251,0.74],[254,0.8],[257,0.85],[260,0.87],[263.6,0.9],[266.7,0.93],[269.8,0.95],[272.8,0.93],[276,0.94],[279,0.97],[282,0.95],[285,0.93],[288,0.94],[291,0.92],[294,0.95],[296,0.98],[298.8,0.82]];
const B_G_B = [[0,0.98],[4.3,0.95],[7.4,0.8],[10.5,0.53],[13.6,0.27],[16.7,0.08],[19.8,0.01],[25.9,0],[38,0],[41,0.13],[43,0.48],[45.7,0.42],[48,0.19],[50.6,0.01],[56.8,0],[63,0.01],[69,0.05],[72,0.08],[75.3,0.11],[78.4,0.13],[81.5,0.16],[84.6,0.24],[86.4,0.21],[89,0.32],[90.7,0.58],[92.6,0.85],[94.4,0.98],[96.9,1.0],[100,1.0],[103,1.0],[106,0.98],[109,0.95],[112,0.93],[115,0.85],[118.5,0.72],[121.6,0.64],[124.7,0.58],[126.5,0.53],[129,0.72],[130.9,0.95],[134,0.98],[137,1.0],[143,1.0],[146,0.98],[149,0.85],[152,0.45],[155.6,0.11],[158.6,0.01],[174,0],[176.5,0.03],[180,0.19],[183,0.58],[186,0.95],[189,0.98],[195.7,1.0],[205,1.0],[211,0.98],[214,0.95],[217,0.9],[220,0.82],[223.5,0.64],[225.9,0.58],[227.8,0.72],[230,0.8],[232.7,0.82],[235.8,0.81],[239,0.81],[242,0.82],[245,0.85],[248,0.8],[251,0.66],[254,0.77],[257,0.88],[260,0.82],[263.6,0.69],[266.7,0.58],[269.8,0.77],[272.8,0.93],[276,0.98],[279,0.97],[282,0.95],[285,0.91],[288,0.92],[291,0.87],[294,0.72],[296,0.5],[298,0.5]];
const B_G_ON1 = [[0,0.98],[3,0.98],[6.2,0.85],[9.3,0.64],[12.3,0.37],[14.8,0.19],[17.3,0.05],[19.8,0],[38,0],[41,0.12],[43,0.4],[45,0.4],[47,0.2],[49.4,0.03],[53.7,0],[63,0],[69,0.03],[72,0.08],[75.3,0.13],[78.4,0.35],[80.9,0.45],[83.3,0.48],[87.7,0.66],[90.7,0.64],[93.8,0.69],[96.9,0.66],[100,0.72],[103,0.77],[106,0.85],[109,0.93],[112,0.98],[115,0.98],[118.5,0.95],[121.6,0.9],[124.7,0.85],[127.8,0.8],[130.9,0.9],[134,0.95],[137,0.98],[140,1.0],[143,1.0],[146,0.98],[149,0.85],[151,0.58],[153.7,0.26],[155.6,0.11],[158.6,0.01],[174,0],[177,0.03],[180,0.27],[183,0.72],[186,0.98],[189,1.0],[198.8,0.99],[205,0.96],[211,0.93],[214,0.84],[217,0.74],[220,0.64],[223.5,0.58],[226.5,0.69],[230,0.8],[231.6,0.74],[233.6,0.64],[236,0.61],[239,0.69],[242,0.77],[245,0.72],[248,0.61],[251,0.58],[254,0.69],[257,0.79],[260,0.85],[263.6,0.87],[270,0.93],[276,0.88],[282,0.85],[288,0.8],[294,0.79],[301,0.77],[307,0.74],[313.6,0.8],[316.7,0.89],[318.5,0.94]];
const B_G_BA = [[0,0.98],[3,0.97],[6.2,0.83],[9.3,0.6],[12.3,0.33],[14.8,0.15],[17.3,0.03],[19.8,0],[38,0],[41,0.13],[43,0.5],[46,0.4],[48.8,0.16],[51.8,0.01],[63,0],[72,0.05],[78.4,0.12],[84.6,0.22],[89,0.32],[90.7,0.58],[92.6,0.85],[94.4,0.98],[96.9,0.98],[103,0.98],[109,0.95],[112,0.93],[115,0.85],[118.5,0.74],[121.6,0.64],[124.7,0.61],[126.5,0.72],[129,0.85],[130.9,0.95],[134,0.98],[143,1.0],[146,0.98],[149,0.85],[152,0.45],[155.6,0.11],[158.6,0.01],[174,0],[176.5,0.03],[180,0.19],[183,0.58],[186,0.95],[189,0.98],[205,1.0],[211,0.98],[214,0.95],[217,0.9],[220,0.85],[223.5,0.82],[226.5,0.82],[230,0.85],[232.7,0.82],[235.8,0.8],[239,0.77],[242,0.74],[245,0.72],[248,0.69],[251,0.66],[254,0.64],[257,0.61],[260,0.64],[263.6,0.72],[266.7,0.8],[269.8,0.88],[272.8,0.95],[276,0.99],[282,1.0],[288,0.98],[294,0.97],[299,0.95],[301.5,0.85],[304,0.85],[306,0.72],[309,0.45],[312,0.27]];

// ---------- panel B, row 2 ----------
const B_F_A = [[0,0.59],[2.3,0.24],[8,0.04],[14,0.03],[20,0.03],[23.4,0.08],[28,0.1],[34,0.07],[40,0.03],[46.8,0.01],[55,0.02],[63,0.03],[68,0.07],[72.5,0.11],[77,0.11],[80.7,0.05],[86.5,0.04],[92.4,0.38],[96,0.62],[99.4,0.4],[104,0.24],[107.6,0.27],[112,0.19],[117,0.13],[121.6,0.32],[126,0.72],[131,0.94],[134.5,0.64],[138,0.19],[142.7,0.08],[147,0.09],[152,0.11],[156.7,0.08],[161,0.03],[168,0.01],[175.4,0.38],[180,0.88],[184.8,0.46],[189.5,0.11],[195,0.01],[207,0],[218.7,0.03],[224.6,0.38],[229,0.66],[234,0.5],[238.6,0.46],[243,0.51],[248,0.67],[252.6,0.76],[257,0.64],[262,0.32],[265.5,0.19],[269,0.21],[274,0.46],[278,0.56],[280.7,0.62],[285,0.46],[290,0.19],[297,0.03],[306,0.01],[316,0.03],[321.6,0.07],[327.5,0.08],[333,0.03],[341.5,0.01],[353,0.03],[362.6,0.04],[370.8,0.05],[376.6,0.08],[382.5,0.05],[388,0.02],[395,0.01],[400,0.03],[407,0.24],[411.7,0.35],[416,0.19],[421,0.11],[425.7,0.19],[430,0.24],[435,0.13],[441,0.03],[447,0.01],[458.5,0.005],[470,0.01],[482,0.03],[493,0.02],[499,0.38],[504,0.64],[509,0.56],[513.5,0.24],[518,0.11],[523,0.24],[526.3,0.37],[531,0.11],[535.7,0.05],[540,0.03],[552,0.01],[563.7,0.01],[573,0.03],[577,0.19],[582,0.32],[587,0.21],[591.8,0.38],[595,0.67]];
const B_F_B = [[0,0.45],[2.3,0.2],[8,0.04],[14,0.03],[20,0.08],[23.4,0.2],[28,0.28],[31,0.3],[34,0.2],[40,0.05],[46.8,0.02],[55,0.02],[63,0.03],[68,0.06],[72.5,0.1],[77,0.1],[80.7,0.05],[86.5,0.05],[92.4,0.4],[96,0.65],[99.4,0.8],[104,0.84],[107.6,0.82],[112,0.55],[117,0.35],[121.6,0.3],[126,0.62],[131,0.88],[134.5,0.6],[138,0.19],[142.7,0.08],[147,0.09],[152,0.11],[156.7,0.08],[161,0.03],[168,0.01],[175.4,0.36],[180,0.86],[184.8,0.46],[189.5,0.11],[195,0.01],[207,0],[218.7,0.03],[224.6,0.4],[229,0.65],[234,0.5],[238.6,0.45],[243,0.5],[248,0.65],[252.6,0.72],[257,0.62],[262,0.3],[265.5,0.18],[269,0.22],[274,0.48],[278,0.6],[280.7,0.68],[283,0.7],[285,0.6],[290,0.22],[297,0.03],[306,0.01],[316,0.03],[321.6,0.06],[327.5,0.07],[333,0.03],[341.5,0.01],[353,0.03],[362.6,0.05],[370.8,0.07],[376.6,0.1],[382.5,0.08],[388,0.03],[395,0.01],[400,0.03],[407,0.22],[411.7,0.33],[416,0.19],[421,0.11],[425.7,0.2],[430,0.22],[435,0.12],[441,0.03],[447,0.01],[458.5,0.005],[470,0.01],[482,0.03],[493,0.02],[499,0.4],[504,0.6],[509,0.5],[513.5,0.25],[518,0.15],[523,0.24],[526.3,0.24],[531,0.2],[535.7,0.08],[540,0.03],[552,0.01],[563.7,0.01],[573,0.03],[577,0.15],[582,0.3],[587,0.22],[591.8,0.3],[595,0.22]];
const B_M21_A = [[0,1.0],[2.2,0.86],[5,0.51],[9,0.32],[12.6,0.13],[16,0.03],[20,0],[27,0],[35,0],[42,0.01],[46,0.13],[50,0.37],[53,0.64],[57,0.78],[61,0.82],[64,0.8],[68,0.76],[72,0.67],[75.6,0.51],[79,0.32],[83,0.19],[86.7,0.13],[89,0.16],[91,0.13],[94,0.08],[98,0.13],[101.5,0.32],[105,0.59],[109,0.78],[112.6,0.91],[116,0.94],[120,0.86],[123.7,0.7],[127.5,0.51],[131,0.32],[135,0.1],[138.5,0.19],[142,0.46],[145.6,0.78],[149.7,0.91],[153,0.8],[157,0.56],[160.7,0.32],[164.4,0.1],[168,0.13],[171.9,0.32],[175.6,0.59],[179,0.78],[183,0.91],[186.8,0.97],[188,0.88],[190,0.97]];
const B_M21_B = [[0,1.0],[2.2,0.86],[5,0.51],[9,0.3],[12.6,0.1],[16,0.02],[20,0],[27,0],[35,0],[42,0.02],[46,0.15],[50,0.4],[53,0.66],[57,0.78],[61,0.82],[64,0.8],[68,0.76],[72,0.67],[75.6,0.5],[79,0.3],[83,0.17],[86.7,0.12],[89,0.14],[91,0.12],[94,0.07],[98,0.12],[101.5,0.3],[105,0.57],[109,0.77],[112.6,0.9],[116,0.93],[120,0.85],[123.7,0.7],[127.5,0.5],[131,0.3],[135,0.1],[138.5,0.2],[142,0.48],[145.6,0.78],[149.7,0.9],[153,0.8],[157,0.56],[160.7,0.3],[164.4,0.1],[168,0.14],[171.9,0.33],[175.6,0.58],[179,0.72],[183,0.75],[186.8,0.75],[188,0.6],[190,0.5]];
const B_M22_A = [[0,0.99],[1.6,0.94],[3.2,0.83],[4.7,0.64],[6.8,0.46],[8.4,0.27],[10,0.19],[12,0.13],[15,0.08],[17.4,0.05],[20,0.04],[22.6,0.05],[25.3,0.04],[28,0.07],[30.5,0.05],[33,0.08],[35.8,0.07],[38.4,0.09],[41,0.11],[43.7,0.08],[46.3,0.04],[49,0.03],[51.6,0.02],[54,0.03],[56.8,0.04],[59.5,0.03],[62,0.02],[64.7,0.03],[67.4,0.05],[70,0.07],[72.6,0.03],[75,0.03],[77.9,0.05],[80.5,0.02],[83,0.04],[85.8,0.01],[88.4,0.03]];
const B_M22_B = [[0,0.99],[2.6,0.96],[4.2,0.86],[5.8,0.7],[7.4,0.51],[9.5,0.38],[11,0.29],[13.2,0.25],[15.3,0.21],[17.4,0.13],[20,0.08],[22.6,0.04],[25.3,0.02],[28,0.01],[33,0.005],[38.4,0],[43.7,0.005],[49,0.01],[54,0.02],[59.5,0.03],[64.7,0.05],[67.4,0.08],[70,0.07],[72.6,0.04],[75,0.04],[77.9,0.03],[80.5,0.02],[83,0.01],[85.8,0.03],[88.4,0.05]];
const B_L_A = [[0,0.48],[5,0.4],[10,0.08],[17,0.03],[31,0.01],[40,0.08],[48,0.19],[53,0.13],[59,0.08],[65.5,0.03],[74,0.04],[83,0.08],[91,0.19],[100,0.32],[108.6,0.37],[114,0.45],[119,0.35],[126,0.19],[134.5,0.13],[143,0.24],[148,0.3],[152,0.38],[157,0.43],[162,0.32],[169,0.38],[174,0.29],[181,0.51],[186,0.7],[191,0.67],[195,0.38],[200,0.08],[207,0],[221,0],[238,0.01],[246.6,0],[290,0],[324,0],[333,0.08],[341,0.38],[346.6,0.32],[352,0.11],[358.6,0.03],[367,0.03],[376,0.01],[393,0.08],[402,0.03],[410,0],[427.6,0.03],[436,0.27],[441,0.37],[448,0.19],[453,0.05],[462,0.01],[479,0],[488,0.08],[496.6,0.19],[505,0.3],[514,0.24],[522,0.32],[527.6,0.45],[534.5,0.48],[540,0.24],[545,0.08],[552,0.16],[557,0.13],[565.5,0.2],[574,0.4],[579,0.51],[586,0.21],[593,0.13],[600,0.24],[608.6,0.54],[614,0.62],[621,0.38],[627.6,0.05],[634.5,0.19],[641,0.4],[648,0.38],[655,0.19],[660,0.13],[669,0.19],[677.6,0.08],[686,0.01],[703,0],[712,0.05],[717,0.08],[724,0.03],[738,0],[746.6,0.03],[755,0.19],[758.6,0.38],[764,0.3],[769,0.13],[776,0.03],[790,0.01],[805,0],[810,0.3],[815.5,0.64],[820.7,0.67],[827.6,0.32],[834.5,0.08],[841,0.03],[850,0.03],[858,0.07],[867,0.04],[876,0.05],[884,0.01],[893,0.59],[901,0.7],[910,0.78],[915,0.72],[922,0.32],[929,0.03],[936,0.01],[953,0],[970,0.01],[979,0.04],[988,0.08],[996,0.11],[1005,0.07],[1013.5,0.01],[1022,0.08],[1031,0.08],[1036,0.03],[1048,0.46],[1057,0.72],[1062,0.78],[1067,0.79],[1074,0.59],[1082.5,0.24],[1091,0.08],[1100,0.35],[1108,0.53],[1113.5,0.46],[1119,0.16],[1126,0.03],[1134,0.01],[1143,0.11],[1148,0.43],[1153,0.67],[1160,0.32],[1167,0.16],[1172,0.4],[1177,0.51],[1186,0.72],[1191,0.75],[1198,0.62],[1203,0.46],[1208,0.56],[1215,0.37],[1222,0.27],[1229,0.46],[1238,0.56],[1246,0.72],[1255,0.8],[1260,0.67],[1267,0.78],[1274,0.72],[1277,0.54],[1284,0.37],[1291,0.13],[1298,0.04],[1307,0.03],[1315,0.05],[1324,0.13],[1332.5,0.05],[1341,0.13],[1350,0.24],[1358,0.19],[1367,0.21],[1376,0.11],[1384,0.03],[1393,0.04],[1401,0.03],[1410,0.01],[1419,0.03],[1427,0.03],[1436,0.01],[1445,0],[1453,0.03],[1462,0.16],[1467,0.24],[1472,0.13],[1479,0.01],[1496,0],[1539,0],[1548,0.03],[1557,0.13],[1562,0.11],[1567,0.01],[1582.5,0],[1591,0.01],[1600,0.05],[1608,0.08],[1617,0.03],[1626,0],[1634,0.01],[1643,0.08],[1648,0.13],[1653,0.03],[1660,0],[1677,0],[1686,0.13],[1691,0.21],[1698,0.16],[1705,0.2],[1712,0.19],[1720,0.13],[1729,0.21],[1738,0.11],[1746,0.46],[1751,0.83],[1757,0.72],[1763.5,0.24],[1772,0.03],[1781,0.01],[1789,0.46],[1794.5,0.8],[1801,0.59],[1808,0.13],[1815,0.01],[1832.5,0],[1850,0.03],[1858,0.24],[1863.5,0.27],[1870,0.13],[1877,0.08],[1884,0.19],[1893,0.24],[1901,0.11],[1910,0.03],[1919,0.05],[1927,0.13],[1936,0.07],[1944.5,0.11],[1950,0.16],[1957,0.13],[1963.5,0.03],[1970,0],[1988,0],[1996,0.03],[2005,0.03],[2013.5,0.01],[2022,0.24],[2031,0.62],[2036,0.63],[2043,0.35],[2050,0.08],[2057,0.08],[2062,0.27],[2067,0.29],[2074,0.13],[2082.5,0.05],[2091,0.04],[2100,0.03],[2108,0],[2117,0.01],[2125.5,0.08],[2131,0.19],[2137.5,0.11],[2143,0.03],[2151.5,0.03],[2160,0.72],[2163.5,0.82]];
const B_L_B = [[0,0.45],[5,0.35],[10,0.08],[17,0.03],[31,0.04],[40,0.1],[48,0.2],[53,0.2],[59,0.1],[65.5,0.03],[74,0.05],[83,0.08],[91,0.2],[100,0.32],[108.6,0.35],[114,0.42],[119,0.35],[126,0.2],[134.5,0.2],[143,0.8],[148,0.62],[152,0.62],[157,0.43],[162,0.32],[169,0.38],[174,0.3],[181,0.55],[186,0.7],[191,0.65],[195,0.38],[200,0.08],[207,0.01],[221,0.03],[238,0.01],[246.6,0],[290,0],[324,0],[333,0.06],[341,0.35],[346.6,0.3],[352,0.1],[358.6,0.03],[367,0.03],[376,0.01],[393,0.06],[402,0.03],[410,0],[427.6,0.05],[436,0.3],[441,0.37],[448,0.2],[453,0.05],[462,0.01],[479,0],[488,0.1],[496.6,0.2],[505,0.3],[514,0.24],[522,0.32],[527.6,0.45],[534.5,0.48],[540,0.24],[545,0.1],[552,0.16],[557,0.13],[565.5,0.25],[574,0.6],[579,0.6],[586,0.21],[593,0.13],[600,0.24],[608.6,0.5],[614,0.58],[621,0.38],[627.6,0.05],[634.5,0.2],[641,0.4],[648,0.38],[655,0.2],[660,0.13],[669,0.19],[677.6,0.08],[686,0.01],[703,0],[712,0.05],[717,0.08],[724,0.03],[738,0],[746.6,0.05],[755,0.4],[758.6,0.38],[764,0.3],[769,0.13],[776,0.03],[790,0.01],[805,0],[810,0.28],[815.5,0.6],[820.7,0.6],[827.6,0.3],[834.5,0.08],[841,0.03],[850,0.03],[858,0.07],[867,0.04],[876,0.05],[884,0.01],[893,0.55],[901,0.68],[910,0.75],[915,0.7],[922,0.32],[929,0.03],[936,0.01],[953,0],[970,0.01],[979,0.04],[988,0.08],[996,0.11],[1005,0.07],[1013.5,0.01],[1022,0.08],[1031,0.08],[1036,0.03],[1048,0.45],[1057,0.7],[1062,0.76],[1067,0.77],[1074,0.59],[1082.5,0.24],[1091,0.08],[1100,0.35],[1108,0.52],[1113.5,0.46],[1119,0.16],[1126,0.03],[1134,0.01],[1143,0.2],[1148,0.62],[1153,0.55],[1160,0.32],[1167,0.2],[1172,0.45],[1177,0.6],[1186,0.72],[1191,0.7],[1198,0.6],[1203,0.46],[1208,0.5],[1215,0.38],[1222,0.3],[1229,0.46],[1238,0.56],[1246,0.62],[1255,0.7],[1260,0.65],[1267,0.7],[1274,0.65],[1277,0.54],[1284,0.37],[1291,0.3],[1298,0.2],[1307,0.05],[1315,0.05],[1324,0.13],[1332.5,0.05],[1341,0.13],[1350,0.22],[1358,0.19],[1367,0.2],[1376,0.11],[1384,0.03],[1393,0.04],[1401,0.03],[1410,0.01],[1419,0.03],[1427,0.03],[1436,0.01],[1445,0],[1453,0.03],[1462,0.16],[1467,0.22],[1472,0.13],[1479,0.01],[1496,0],[1539,0],[1548,0.03],[1557,0.16],[1562,0.13],[1567,0.01],[1582.5,0],[1591,0.01],[1600,0.05],[1608,0.08],[1617,0.03],[1626,0],[1634,0.01],[1643,0.1],[1648,0.16],[1653,0.03],[1660,0],[1677,0],[1686,0.35],[1691,0.35],[1698,0.24],[1705,0.21],[1712,0.43],[1720,0.32],[1729,0.21],[1738,0.11],[1746,0.46],[1751,0.8],[1757,0.7],[1763.5,0.24],[1772,0.03],[1781,0.01],[1789,0.46],[1794.5,0.78],[1801,0.59],[1808,0.13],[1815,0.01],[1832.5,0],[1850,0.03],[1858,0.24],[1863.5,0.27],[1870,0.13],[1877,0.08],[1884,0.19],[1893,0.24],[1901,0.11],[1910,0.03],[1919,0.05],[1927,0.13],[1936,0.07],[1944.5,0.11],[1950,0.16],[1957,0.13],[1963.5,0.03],[1970,0],[1988,0],[1996,0.03],[2005,0.05],[2013.5,0.01],[2022,0.22],[2031,0.6],[2036,0.6],[2043,0.35],[2050,0.08],[2057,0.1],[2062,0.33],[2067,0.32],[2074,0.13],[2082.5,0.05],[2091,0.04],[2100,0.03],[2108,0],[2117,0.01],[2125.5,0.08],[2131,0.19],[2137.5,0.11],[2143,0.03],[2151.5,0.03],[2160,0.5],[2163.5,0.56]];

// ---------- layout (pixels of the 800x766 page) ----------
const FONT = '"Liberation Sans", Arial, Helvetica, sans-serif';
const ROWS = {
  A1: {top: 52, bottom: 187, titleDy: -3},
  A2: {top: 233, bottom: 369, titleDy: -1},
  B1: {top: 458, bottom: 583, titleDy: -2},
  B2: {top: 622, bottom: 747, titleDy: -3}
};
const PANELS = [
  {row: "A1", title: "NS1", x0: 39.3, x1: 130, domain: [0, 138], ticks: [0, 50, 100], first: true, series: [["RSV B", A_NS1_B], ["RSV A", A_NS1_A]]},
  {row: "A1", title: "NS2", x0: 135, x1: 215, domain: [0, 124], ticks: [0, 50, 100], series: [["RSV B", A_NS2_B], ["RSV A", A_NS2_A]]},
  {row: "A1", title: "N", x0: 220.7, x1: 346.7, domain: [0, 395], ticks: [0, 100, 200, 300], series: [["RSV B", A_N_B], ["RSV A", A_N_A]]},
  {row: "A1", title: "P", x0: 351, x1: 463, domain: [0, 240], ticks: [0, 100, 200], series: [["RSV B", A_P_B], ["RSV A", A_P_A]]},
  {row: "A1", title: "M", x0: 467.3, x1: 575, domain: [0, 256], ticks: [0, 100, 200], series: [["RSV B", A_M_B], ["RSV A", A_M_A]]},
  {row: "A1", title: "SH", x0: 580.7, x1: 642, domain: [0, 67.5], ticks: [0, 20, 40, 60], series: [["RSV B", A_SH_B], ["RSV A", A_SH_A]]},
  {row: "A1", title: "G", x0: 649.3, x1: 787, domain: [0, 325], ticks: [0, 100, 200, 300], series: [["RSVB BA", A_G_BA], ["RSV B", A_G_B], ["RSVA ON1", A_G_ON1], ["RSV A", A_G_A]]},
  {row: "A2", title: "F", x0: 39.3, x1: 204, domain: [0, 585], ticks: [0, 100, 200, 300, 400, 500], first: true, series: [["RSV B", A_F_B], ["RSV A", A_F_A]]},
  {row: "A2", title: "M2-1", x0: 210.7, x1: 298, domain: [0, 190], ticks: [0, 50, 100, 150], series: [["RSV B", A_M21_B], ["RSV A", A_M21_A]]},
  {row: "A2", title: "M2-2", x0: 307.3, x1: 362, domain: [0, 89], ticks: [0, 50], series: [["RSV B", A_M22_B], ["RSV A", A_M22_A]]},
  {row: "A2", title: "L", x0: 369, x1: 787, domain: [0, 2162], ticks: [0, 500, 1000, 1500, 2000], series: [["RSV B", A_L_B], ["RSV A", A_L_A]]},
  {row: "B1", title: "NS1", x0: 39.3, x1: 115, domain: [0, 146], ticks: [0, 50, 100], first: true, series: [["RSV B", B_NS1_B], ["RSV A", B_NS1_A]]},
  {row: "B1", title: "NS2", x0: 122.3, x1: 192.7, domain: [0, 124], ticks: [0, 50, 100], series: [["RSV B", B_NS2_B], ["RSV A", B_NS2_A]]},
  {row: "B1", title: "N", x0: 200, x1: 323.3, domain: [0, 400], ticks: [0, 100, 200, 300], series: [["RSV B", B_N_B], ["RSV A", B_N_A]]},
  {row: "B1", title: "P", x0: 333.3, x1: 430, domain: [0, 248], ticks: [0, 100, 200], series: [["RSV B", B_P_B], ["RSV A", B_P_A]]},
  {row: "B1", title: "M", x0: 440.7, x1: 535, domain: [0, 258], ticks: [0, 100, 200], series: [["RSV B", B_M_B], ["RSV A", B_M_A]]},
  {row: "B1", title: "SH", x0: 543.3, x1: 600.7, domain: [0, 67.5], ticks: [0, 20, 40, 60], series: [["RSV B", B_SH_B], ["RSV A", B_SH_A]]},
  {row: "B1", title: "G", x0: 606, x1: 780, domain: [0, 322], ticks: [0, 100, 200, 300], series: [["RSVB BA", B_G_BA], ["RSVA ON1", B_G_ON1], ["RSV B", B_G_B], ["RSV A", B_G_A]]},
  {row: "B2", title: "F", x0: 38.3, x1: 209.3, domain: [0, 598], ticks: [0, 100, 200, 300, 400, 500], first: true, series: [["RSV B", B_F_B], ["RSV A", B_F_A]]},
  {row: "B2", title: "M2-1", x0: 214.3, x1: 300.7, domain: [0, 192], ticks: [0, 50, 100, 150], series: [["RSV B", B_M21_B], ["RSV A", B_M21_A]]},
  {row: "B2", title: "M2-2", x0: 307.3, x1: 364.3, domain: [0, 90], ticks: [0, 50], series: [["RSV B", B_M22_B], ["RSV A", B_M22_A]]},
  {row: "B2", title: "L", x0: 369, x1: 787, domain: [0, 2162], ticks: [0, 500, 1000, 1500, 2000], series: [["RSV B", B_L_B], ["RSV A", B_L_A]]}
];
const LEGENDS = [
  {x: 718, y: 149, step: 9.4, size: 9, w: 20, names: SERIES},
  {x: 730, y: 247.7, step: 10.6, size: 9, w: 18, names: ["RSV A", "RSV B"]},
  {x: 733, y: 555.5, step: 7.7, size: 7.3, w: 20, names: SERIES},
  {x: 740, y: 632, step: 7.8, size: 7.5, w: 17, names: ["RSV A", "RSV B"]}
];

const chart = document.getElementById("chart");
const xFmt = d3.format("d");

function drawPanel(p) {
  const r = ROWS[p.row];
  const ml = p.first ? 39 : 6, mr = 6, mt = 20, mb = 20;
  const iw = p.x1 - p.x0, ih = r.bottom - r.top;
  const marks = [
    Plot.axisX({ticks: p.ticks, tickFormat: xFmt, tickSize: 3, tickPadding: 1.5, fontSize: 9, fontWeight: "bold", fontFamily: FONT, label: null, strokeWidth: 1.5})
  ];
  if (p.first) {
    marks.push(Plot.axisY({ticks: Y_TICKS, tickFormat: d3.format(".1f"), tickSize: 3, tickPadding: 1, fontSize: 9, fontWeight: "bold", fontFamily: FONT, label: null, strokeWidth: 1.5}));
    marks.push(Plot.text(["Disorder score"], {frameAnchor: "left", rotate: -90, dx: -28, fontSize: 11, fontWeight: "bold", fontFamily: FONT, fill: "#000"}));
  }
  for (const [name, data] of p.series) {
    marks.push(Plot.line(data, {x: d => d[0], y: d => d[1], stroke: COLORS[name], strokeWidth: 2, strokeLinejoin: "round"}));
  }
  marks.push(Plot.ruleY([0.5], {stroke: "#000", strokeWidth: 2}));
  marks.push(Plot.ruleX([0], {stroke: "#000", strokeWidth: 2.2}));
  marks.push(Plot.ruleY([0], {stroke: "#000", strokeWidth: 2.2}));
  marks.push(Plot.text([p.title], {frameAnchor: "top", lineAnchor: "bottom", dy: r.titleDy, fontSize: 11.5, fontWeight: "bold", fontFamily: FONT, fill: "#000"}));
  const svg = Plot.plot({
    width: iw + ml + mr, height: ih + mt + mb,
    marginLeft: ml, marginRight: mr, marginTop: mt, marginBottom: mb,
    style: {background: "transparent", overflow: "visible", color: "#000", fontFamily: FONT},
    x: {domain: p.domain},
    y: {domain: [0, 1], axis: p.first ? undefined : null},
    marks
  });
  svg.style.position = "absolute";
  svg.style.left = (p.x0 - ml) + "px";
  svg.style.top = (r.top - mt) + "px";
  chart.appendChild(svg);
}
PANELS.forEach(drawPanel);

// panel letters
for (const [txt, left, top] of [["A", 12, 4], ["B", 10, 411]]) {
  const d = document.createElement("div");
  d.className = "big"; d.textContent = txt;
  d.style.left = left + "px"; d.style.top = top + "px";
  chart.appendChild(d);
}
// legends
for (const L of LEGENDS) {
  L.names.forEach((name, i) => {
    const cy = L.y + i * L.step;
    const row = document.createElement("div");
    row.className = "lg";
    row.style.left = L.x + "px";
    row.style.top = (cy - L.size / 2) + "px";
    row.style.fontSize = L.size + "px";
    row.style.height = L.size + "px";
    const sw = document.createElement("span");
    sw.className = "sw";
    sw.style.left = "0px"; sw.style.width = L.w + "px";
    sw.style.top = (L.size / 2 - 1.5) + "px";
    sw.style.background = COLORS[name];
    const tx = document.createElement("span");
    tx.textContent = name;
    tx.style.position = "absolute";
    tx.style.left = (L.w + 3.5) + "px";
    tx.style.top = "0px";
    row.appendChild(sw); row.appendChild(tx);
    chart.appendChild(row);
  });
}
</script></body></html>
